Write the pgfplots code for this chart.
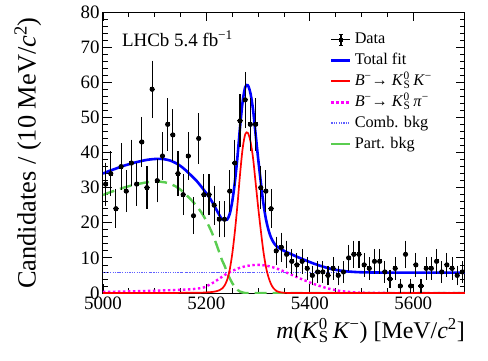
\documentclass[border=0pt]{standalone}
\usepackage{fontspec}
\setmainfont{Liberation Serif}
\usepackage{pgfplots}
\usepackage{pgfplotstable}
\pgfplotsset{compat=1.18}

\definecolor{fitblue}{RGB}{0,0,255}
\definecolor{sigred}{RGB}{255,0,0}
\definecolor{pimag}{RGB}{255,0,255}
\definecolor{combblue}{RGB}{95,95,255}
\definecolor{partgreen}{RGB}{90,205,80}

\newcommand{\KS}{\textit{K}\kern0.3pt\rlap{\textsuperscript{0}}\textsubscript{S}}
\newcommand{\sm}{\textsuperscript{−}}

% 10 MeV bins: centre, candidates, stat. error
\pgfplotstableread{
m n en
5005 31 5.57
5015 34 5.83
5025 24 4.90
5035 36 6.00
5045 29 5.39
5055 37 6.08
5065 31 5.57
5075 43 6.56
5085 30 5.48
5095 58 7.62
5105 32 5.66
5115 39 6.24
5125 48 6.93
5135 45 6.71
5145 34 5.83
5155 28 5.29
5165 39 6.24
5175 22 4.69
5185 44 6.63
5195 28 5.29
5205 28 5.29
5215 25 5.00
5225 21 4.58
5235 21 4.58
5245 29 5.39
5255 37 6.08
5265 49 7.00
5275 55 7.42
5285 48 6.93
5295 48 6.93
5305 30 5.48
5315 29 5.39
5325 24 4.90
5335 12 3.46
5345 13 3.61
5355 11 3.32
5365 9 3.00
5375 8 2.83
5385 9 3.00
5395 7 2.65
5405 5 2.24
5415 6 2.45
5425 6 2.45
5435 5 2.24
5445 7 2.65
5455 5 2.24
5465 6 2.45
5475 10 3.16
5485 11 3.32
5495 11 3.32
5505 8 2.83
5515 7 2.65
5525 9 3.00
5535 9 3.00
5545 6 2.45
5555 4 2.00
5565 7 2.65
5575 2 1.41
5585 11 3.32
5595 2 1.41
5605 8 2.83
5615 2 1.41
5625 7 2.65
5635 7 2.65
5645 9 3.00
5655 6 2.45
5665 8 2.83
5675 7 2.65
5685 5 2.24
5695 6 2.45
}\datatab

% fit components
\pgfplotstableread{
m sig pi comb part tot
5000 0 0.30 5.8 27.9 34.00
5010 0 0.33 5.8 28.5 34.63
5020 0 0.36 5.8 29.0 35.16
5030 0 0.39 5.8 29.5 35.69
5040 0 0.42 5.8 30.0 36.22
5050 0 0.45 5.8 30.4 36.65
5060 0 0.49 5.8 30.8 37.09
5070 0 0.53 5.8 31.1 37.43
5080 0 0.57 5.8 31.4 37.77
5090 0 0.61 5.8 31.6 38.01
5100 0 0.65 5.8 31.7 38.15
5110 0 0.70 5.8 31.7 38.20
5120 0 0.75 5.8 31.5 38.05
5130 0 0.80 5.8 31.1 37.70
5140 0 0.85 5.8 30.4 37.05
5150 0.05 0.90 5.8 29.4 36.15
5160 0.06 0.97 5.8 28.1 34.93
5170 0.08 1.05 5.8 26.6 33.53
5180 0.09 1.20 5.8 25.0 32.09
5190 0.10 1.40 5.8 23.0 30.30
5195 0.12 1.60 5.8 21.8 29.32
5200 0.16 1.90 5.8 20.5 28.36
5205 0.22 2.30 5.8 19.0 27.32
5210 0.28 2.70 5.8 17.4 26.18
5215 0.38 3.10 5.8 15.6 24.88
5220 0.53 3.60 5.8 13.6 23.53
5225 0.78 4.10 5.8 11.5 22.18
5230 1.25 4.60 5.8 9.4 21.05
5235 2.10 5.10 5.8 7.8 20.80
5240 3.70 5.50 5.8 5.9 20.90
5245 6.60 5.90 5.8 4.2 22.50
5250 11.2 6.30 5.8 2.8 26.10
5255 17.5 6.60 5.8 1.7 31.60
5260 25.1 6.90 5.8 0.9 38.70
5265 33.8 7.20 5.8 0.4 47.20
5270 41.1 7.40 5.8 0.15 54.45
5275 45.2 7.60 5.8 0 58.60
5280 45.6 7.75 5.8 0 59.15
5285 43.3 7.85 5.8 0 56.95
5290 38.6 7.95 5.8 0 52.35
5295 31.6 8.00 5.8 0 45.40
5300 24.5 8.00 5.8 0 38.30
5305 18.0 8.00 5.8 0 31.80
5310 12.0 7.90 5.8 0 25.70
5315 7.50 7.80 5.8 0 21.10
5320 4.50 7.65 5.8 0 17.95
5325 2.50 7.45 5.8 0 15.75
5330 1.30 7.25 5.8 0 14.35
5335 0.60 7.00 5.8 0 13.40
5340 0.30 6.75 5.8 0 12.85
5345 0.14 6.45 5.8 0 12.39
5350 0.06 6.15 5.8 0 12.01
5355 0.03 5.80 5.8 0 11.63
5360 0.02 5.50 5.8 0 11.32
5370 0 4.85 5.8 0 10.65
5380 0 4.20 5.8 0 10.00
5390 0 3.60 5.8 0 9.40
5400 0 3.00 5.8 0 8.80
5410 0 2.45 5.8 0 8.25
5420 0 1.95 5.8 0 7.75
5430 0 1.50 5.8 0 7.30
5440 0 1.10 5.8 0 6.90
5450 0 0.80 5.8 0 6.60
5460 0 0.55 5.8 0 6.35
5470 0 0.38 5.8 0 6.18
5480 0 0.25 5.8 0 6.05
5490 0 0.16 5.8 0 5.96
5500 0 0.10 5.8 0 5.90
5520 0 0.04 5.8 0 5.84
5550 0 0.01 5.8 0 5.81
5600 0 0 5.8 0 5.80
5650 0 0 5.8 0 5.80
5700 0 0 5.8 0 5.80
}\fittab

\begin{document}
\begin{tikzpicture}
\useasboundingbox (-103bp,-68bp) rectangle (385bp,293bp);
\begin{axis}[
  at={(0,0)}, anchor=south west,
  scale only axis, width=362bp, height=281bp,
  xmin=5000, xmax=5700, ymin=0, ymax=80,
  xtick={5000,5200,5400,5600}, minor x tick num=3,
  ytick={0,10,...,80}, minor y tick num=4,
  tick align=inside, tick pos=both,
  major tick length=9bp, minor tick length=5bp,
  axis line style={line width=1bp},
  every tick/.style={black, line width=0.8bp},
  ticklabel style={font=\fontsize{19}{19}\selectfont},
  /pgf/number format/assume math mode=true,
  /pgf/number format/set thousands separator={},
  scaled x ticks=false,
  xlabel={\textit{m}(\KS\,\textit{K}\sm) [MeV/\textit{c}\textsuperscript{2}]},
  ylabel={Candidates / (10 MeV/\textit{c}\textsuperscript{2})},
  xlabel style={font=\fontsize{24}{24}\selectfont, at={(axis description cs:1,-0.09)}, anchor=north east, inner sep=0pt},
  ylabel style={font=\fontsize{26.5}{26.5}\selectfont, at={(axis description cs:-0.17,0.982)}, anchor=south east, inner sep=0pt},
  legend cell align=left,
  legend style={at={(rel axis cs:0.627,0.93)}, anchor=north west, draw=none, fill=none,
    font=\fontsize{16.3}{16.3}\selectfont, row sep=5.4bp, inner sep=0pt,
    nodes={inner sep=0pt, text height=12bp, text depth=3.5bp},
    /tikz/every odd column/.append style={column sep=3bp}},
]
% legend
\addlegendimage{legend image code/.code={
  \draw[black, line width=1.1bp] (0bp,0bp) -- (19bp,0bp);
  \draw[black, line width=1.1bp] (9.5bp,-5.5bp) -- (9.5bp,5.5bp);
  \draw[black, line width=1.1bp] (7.5bp,-5.5bp) -- (11.5bp,-5.5bp);
  \draw[black, line width=1.1bp] (7.5bp,5.5bp) -- (11.5bp,5.5bp);
  \fill[black] (8.1bp,-1.4bp) rectangle (10.9bp,1.4bp);}}
\addlegendentry{Data}
\addlegendimage{legend image code/.code={
  \draw[fitblue, line width=2.6bp] (0bp,0bp) -- (19bp,0bp);}}
\addlegendentry{Total fit}
\addlegendimage{legend image code/.code={
  \draw[sigred, line width=1.9bp] (0bp,0bp) -- (19bp,0bp);}}
\addlegendentry{\textit{B}\sm→ \KS\,\textit{K}\sm}
\addlegendimage{legend image code/.code={
  \draw[pimag, line width=2.4bp, dash pattern=on 2.4bp off 2.6bp] (0bp,0bp) -- (19bp,0bp);}}
\addlegendentry{\textit{B}\sm→ \KS\,\textit{π}\sm}
\addlegendimage{legend image code/.code={
  \draw[combblue, line width=1.5bp, dash pattern=on 1.2bp off 1.2bp] (0bp,0bp) -- (19bp,0bp);}}
\addlegendentry{Comb. bkg}
\addlegendimage{legend image code/.code={
  \draw[partgreen, line width=2.4bp] (0bp,0bp) -- (19bp,0bp);}}
\addlegendentry{Part. bkg}

% fit components
\addplot[forget plot, combblue, line width=1.5bp, dash pattern=on 1.2bp off 1.2bp] table[x=m, y=comb] {\fittab};
\addplot[forget plot, partgreen, line width=2.4bp, dash pattern=on 12bp off 6bp] table[x=m, y=part] {\fittab};
\addplot[forget plot, pimag, line width=2.4bp, dash pattern=on 2.4bp off 2.6bp] table[x=m, y=pi] {\fittab};
\addplot[forget plot, sigred, line width=1.7bp, smooth] table[x=m, y=sig] {\fittab};
\addplot[forget plot, fitblue, line width=2.6bp, smooth] table[x=m, y=tot] {\fittab};

% data
\addplot[forget plot, black, line width=1.1bp, only marks, mark=none,
  error bars/.cd, x dir=both, x fixed=5, error mark=none,
  error bar style={line width=1.1bp}]
  table[x=m, y=n] {\datatab};
\addplot[forget plot, black, line width=1.1bp, only marks, mark=square*, mark size=1.4bp,
  error bars/.cd, y dir=both, y explicit,
  error bar style={line width=1.1bp},
  error mark options={black, line width=1.1bp, mark size=2bp}]
  table[x=m, y=n, y error=en] {\datatab};

\node[anchor=base west, font=\fontsize{19}{19}\selectfont, inner sep=0pt]
  at (rel axis cs:0.052,0.879) {LHCb 5.4 fb\textsuperscript{−1}};
\end{axis}
\end{tikzpicture}
\end{document}
